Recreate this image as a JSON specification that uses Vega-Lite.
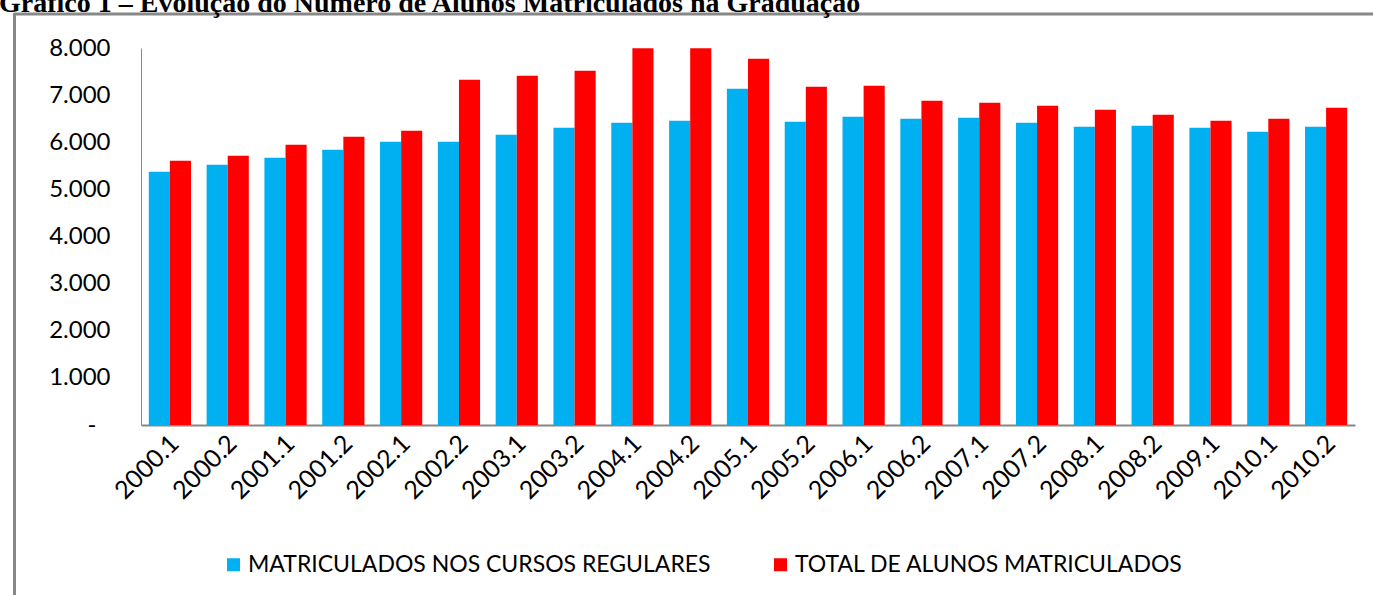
{
  "$schema": "https://vega.github.io/schema/vega-lite/v6.json",
  "usermeta": {"embedOptions": {"actions": false}},
  "autosize": {"type": "none"},
  "padding": {"left": 14, "top": 14, "right": 0, "bottom": 0},
  "width": 1359,
  "height": 581,
  "background": "white",
  "title": {
    "text": "Gráfico 1 – Evolução do Número de Alunos Matriculados na Graduação",
    "anchor": "start",
    "frame": "group",
    "font": "Liberation Serif",
    "fontSize": 28,
    "fontWeight": "bold",
    "color": "black",
    "baseline": "alphabetic",
    "offset": -4,
    "dx": -15,
    "dy": 24
  },
  "config": {
    "view": {"stroke": "#888888", "strokeWidth": 3, "fill": "white", "strokeDash": [1359, 100000]},
    "axis": {"grid": false, "ticks": false, "labelColor": "black", "domainColor": "#868686"}
  },
  "data": {
    "values": [
      {"periodo": "2000.1", "serie": "MATRICULADOS NOS CURSOS REGULARES", "valor": 5372},
      {"periodo": "2000.1", "serie": "TOTAL DE ALUNOS MATRICULADOS", "valor": 5605},
      {"periodo": "2000.2", "serie": "MATRICULADOS NOS CURSOS REGULARES", "valor": 5520},
      {"periodo": "2000.2", "serie": "TOTAL DE ALUNOS MATRICULADOS", "valor": 5711},
      {"periodo": "2001.1", "serie": "MATRICULADOS NOS CURSOS REGULARES", "valor": 5669},
      {"periodo": "2001.1", "serie": "TOTAL DE ALUNOS MATRICULADOS", "valor": 5945},
      {"periodo": "2001.2", "serie": "MATRICULADOS NOS CURSOS REGULARES", "valor": 5839},
      {"periodo": "2001.2", "serie": "TOTAL DE ALUNOS MATRICULADOS", "valor": 6115},
      {"periodo": "2002.1", "serie": "MATRICULADOS NOS CURSOS REGULARES", "valor": 6008},
      {"periodo": "2002.1", "serie": "TOTAL DE ALUNOS MATRICULADOS", "valor": 6242},
      {"periodo": "2002.2", "serie": "MATRICULADOS NOS CURSOS REGULARES", "valor": 6008},
      {"periodo": "2002.2", "serie": "TOTAL DE ALUNOS MATRICULADOS", "valor": 7325},
      {"periodo": "2003.1", "serie": "MATRICULADOS NOS CURSOS REGULARES", "valor": 6157},
      {"periodo": "2003.1", "serie": "TOTAL DE ALUNOS MATRICULADOS", "valor": 7410},
      {"periodo": "2003.2", "serie": "MATRICULADOS NOS CURSOS REGULARES", "valor": 6306},
      {"periodo": "2003.2", "serie": "TOTAL DE ALUNOS MATRICULADOS", "valor": 7516},
      {"periodo": "2004.1", "serie": "MATRICULADOS NOS CURSOS REGULARES", "valor": 6412},
      {"periodo": "2004.1", "serie": "TOTAL DE ALUNOS MATRICULADOS", "valor": 7995},
      {"periodo": "2004.2", "serie": "MATRICULADOS NOS CURSOS REGULARES", "valor": 6454},
      {"periodo": "2004.2", "serie": "TOTAL DE ALUNOS MATRICULADOS", "valor": 7995},
      {"periodo": "2005.1", "serie": "MATRICULADOS NOS CURSOS REGULARES", "valor": 7134},
      {"periodo": "2005.1", "serie": "TOTAL DE ALUNOS MATRICULADOS", "valor": 7771},
      {"periodo": "2005.2", "serie": "MATRICULADOS NOS CURSOS REGULARES", "valor": 6433},
      {"periodo": "2005.2", "serie": "TOTAL DE ALUNOS MATRICULADOS", "valor": 7176},
      {"periodo": "2006.1", "serie": "MATRICULADOS NOS CURSOS REGULARES", "valor": 6539},
      {"periodo": "2006.1", "serie": "TOTAL DE ALUNOS MATRICULADOS", "valor": 7197},
      {"periodo": "2006.2", "serie": "MATRICULADOS NOS CURSOS REGULARES", "valor": 6497},
      {"periodo": "2006.2", "serie": "TOTAL DE ALUNOS MATRICULADOS", "valor": 6879},
      {"periodo": "2007.1", "serie": "MATRICULADOS NOS CURSOS REGULARES", "valor": 6518},
      {"periodo": "2007.1", "serie": "TOTAL DE ALUNOS MATRICULADOS", "valor": 6837},
      {"periodo": "2007.2", "serie": "MATRICULADOS NOS CURSOS REGULARES", "valor": 6412},
      {"periodo": "2007.2", "serie": "TOTAL DE ALUNOS MATRICULADOS", "valor": 6773},
      {"periodo": "2008.1", "serie": "MATRICULADOS NOS CURSOS REGULARES", "valor": 6327},
      {"periodo": "2008.1", "serie": "TOTAL DE ALUNOS MATRICULADOS", "valor": 6688},
      {"periodo": "2008.2", "serie": "MATRICULADOS NOS CURSOS REGULARES", "valor": 6348},
      {"periodo": "2008.2", "serie": "TOTAL DE ALUNOS MATRICULADOS", "valor": 6582},
      {"periodo": "2009.1", "serie": "MATRICULADOS NOS CURSOS REGULARES", "valor": 6306},
      {"periodo": "2009.1", "serie": "TOTAL DE ALUNOS MATRICULADOS", "valor": 6454},
      {"periodo": "2010.1", "serie": "MATRICULADOS NOS CURSOS REGULARES", "valor": 6221},
      {"periodo": "2010.1", "serie": "TOTAL DE ALUNOS MATRICULADOS", "valor": 6497},
      {"periodo": "2010.2", "serie": "MATRICULADOS NOS CURSOS REGULARES", "valor": 6327},
      {"periodo": "2010.2", "serie": "TOTAL DE ALUNOS MATRICULADOS", "valor": 6730}
    ]
  },
  "resolve": {"scale": {"y": "independent"}, "axis": {"y": "independent"}},
  "layer": [
    {
      "mark": {"type": "bar"},
      "encoding": {
        "x": {
          "field": "periodo",
          "type": "nominal",
          "sort": null,
          "title": null,
          "scale": {"range": [127, 1341], "paddingInner": 0.27, "paddingOuter": 0.135},
          "axis": {
            "offset": -170,
            "domainWidth": 2,
            "labelAngle": -45,
            "labelAlign": "right",
            "labelBaseline": "middle",
            "labelPadding": 14,
            "labelOffset": 5,
            "labelFont": "Lato",
            "labelFontSize": 25
          }
        },
        "xOffset": {
          "field": "serie",
          "type": "nominal",
          "scale": {"paddingInner": 0, "paddingOuter": 0}
        },
        "y": {
          "field": "valor",
          "type": "quantitative",
          "title": null,
          "scale": {"domain": [0, 8000], "range": [411, 34], "nice": false, "zero": true},
          "axis": {
            "orient": "left",
            "offset": -127,
            "values": [0, 1000, 2000, 3000, 4000, 5000, 6000, 7000, 8000],
            "domainWidth": 1,
            "labelPadding": {"condition": {"test": "datum.value == 0", "value": 45}, "value": 31},
            "labelFont": "Lato",
            "labelFontSize": 24,
            "labelExpr": "datum.value == 0 ? '-' : replace(format(datum.value, ','), ',', '.')"
          }
        },
        "color": {
          "field": "serie",
          "type": "nominal",
          "title": null,
          "scale": {
            "domain": ["MATRICULADOS NOS CURSOS REGULARES", "TOTAL DE ALUNOS MATRICULADOS"],
            "range": ["#00B0F0", "#FF0000"]
          },
          "legend": {
            "orient": "none",
            "legendX": 208,
            "legendY": 539,
            "direction": "horizontal",
            "symbolType": "square",
            "symbolSize": 169,
            "symbolStrokeWidth": 0,
            "labelFont": "Lato",
            "labelFontSize": 23,
            "labelColor": "black",
            "labelLimit": 0,
            "labelOffset": 3,
            "columnPadding": 58
          }
        }
      }
    },
    {
      "mark": {"type": "point", "opacity": 0},
      "encoding": {
        "y": {
          "field": "valor",
          "type": "quantitative",
          "title": null,
          "scale": {"domain": [0, 8000], "nice": false},
          "axis": {
            "orient": "left",
            "offset": 0,
            "labels": false,
            "ticks": false,
            "grid": false,
            "domainColor": "#888888",
            "domainWidth": 3,
            "domainCap": "square"
          }
        }
      }
    }
  ]
}
